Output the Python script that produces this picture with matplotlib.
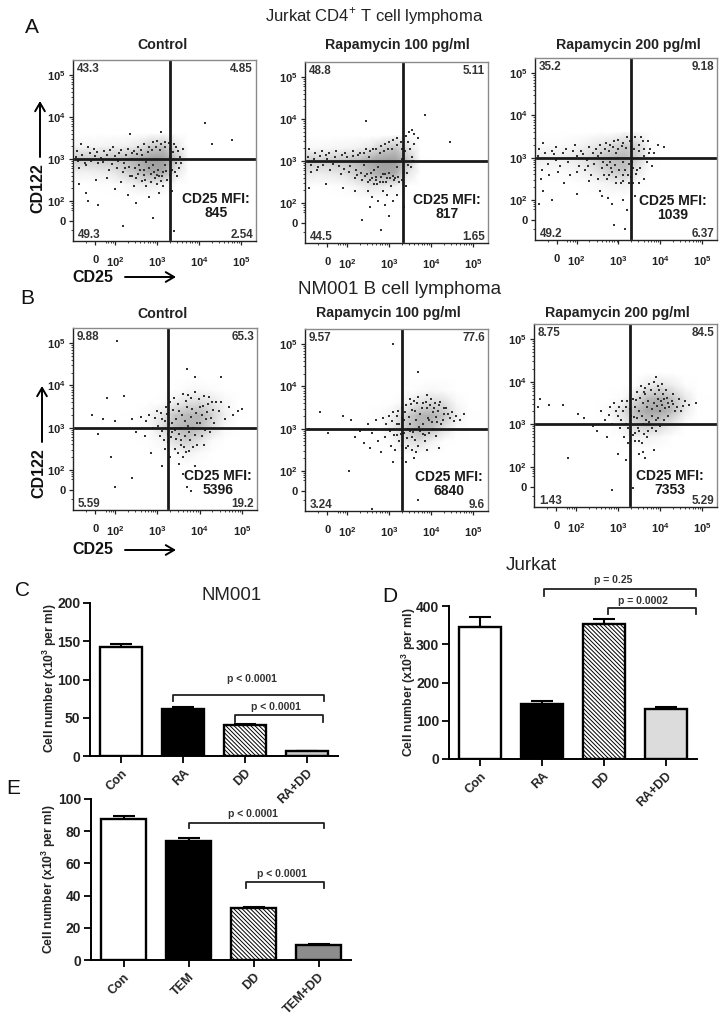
import numpy as np
import matplotlib
matplotlib.use("Agg")
import matplotlib.pyplot as plt

plt.rcParams['font.family'] = ['Liberation Sans', 'DejaVu Sans']
plt.rcParams['mathtext.fontset'] = 'custom'
plt.rcParams['mathtext.rm'] = 'Liberation Sans'
plt.rcParams['mathtext.bf'] = 'Liberation Sans:bold'
plt.rcParams['hatch.linewidth'] = 0.7

W, H = 728, 1018

# flow panels, axes are in decades (3 = 10^3), 0 sits at 1.53
panel_names = ["A1", "A2", "A3", "B1", "B2", "B3"]
panel_titles = ["Control", "Rapamycin 100 pg/ml", "Rapamycin 200 pg/ml",
                "Control", "Rapamycin 100 pg/ml", "Rapamycin 200 pg/ml"]
quad_ul = ["43.3", "48.8", "35.2", "9.88", "9.57", "8.75"]
quad_ur = ["4.85", "5.11", "9.18", "65.3", "77.6", "84.5"]
quad_ll = ["49.3", "44.5", "49.2", "5.59", "3.24", "1.43"]
quad_lr = ["2.54", "1.65", "6.37", "19.2", "9.6", "5.29"]
mfi = ["845", "817", "1039", "5396", "6840", "7353"]
gate_x = [3.31, 3.33, 3.31, 3.26, 3.31, 3.29]
gate_y = [3.0, 3.0, 3.0, 3.0, 3.0, 3.0]

# density read by eye, rows run from high CD122 to low
t_cols = [1.05, 1.35, 1.65, 1.95, 2.25, 2.55, 2.85, 3.15, 3.45, 3.75, 4.05]
t_rows = [3.6, 3.3, 3.0, 2.7, 2.4, 2.1]
b_cols = [2.2, 2.5, 2.8, 3.1, 3.4, 3.7, 4.0, 4.3, 4.6, 4.9, 5.2]
b_rows = [4.2, 3.9, 3.6, 3.3, 3.0, 2.7, 2.4, 2.1]

dens_a1 = [[0, 0, 0, 0, 0, 0, .02, .05, .02, 0, 0],
           [.12, .12, .12, .15, .15, .25, .5, .6, .25, 0, 0],
           [.55, .55, .55, .6, .65, .85, 1, 1, .6, .02, 0],
           [.15, .15, .2, .25, .45, .65, .9, .9, .25, 0, 0],
           [0, .01, .02, .03, .08, .2, .2, .12, 0, 0, 0],
           [0, 0, 0, 0, 0, 0, 0, 0, 0, 0, 0]]
dens_a2 = [[0, 0, 0, 0, 0, 0, .02, .08, .04, 0, 0],
           [.08, .08, .1, .12, .15, .25, .5, .6, .3, 0, 0],
           [.55, .5, .55, .6, .7, .9, 1, 1, .6, .02, 0],
           [.22, .18, .22, .3, .5, .7, .9, .85, .25, 0, 0],
           [0, .01, .02, .04, .12, .25, .2, .12, 0, 0, 0],
           [0, 0, 0, 0, 0, .02, 0, 0, 0, 0, 0]]
dens_a3 = [[0, 0, 0, 0, 0, 0, .01, .08, .06, 0, 0],
           [.06, .06, .06, .08, .15, .25, .35, .5, .4, .04, 0],
           [.2, .18, .18, .22, .35, .55, .7, .75, .5, .05, 0],
           [.06, .06, .06, .1, .18, .35, .55, .6, .22, 0, 0],
           [0, 0, 0, 0, .03, .1, .15, .18, .04, 0, 0],
           [0, 0, 0, 0, 0, 0, .02, .02, 0, 0, 0]]
dens_b1 = [[0, 0, 0, 0, 0, 0, 0, 0, 0, 0, 0],
           [0, 0, 0, 0, 0, .05, .08, .04, 0, 0, 0],
           [0, 0, 0, .03, .15, .3, .35, .25, .08, 0, 0],
           [0, .02, .08, .25, .55, .7, .75, .45, .15, .02, 0],
           [0, .01, .06, .3, .65, .8, .7, .35, .06, 0, 0],
           [0, 0, .02, .1, .35, .5, .3, .06, 0, 0, 0],
           [0, 0, 0, .02, .06, .15, .06, 0, 0, 0, 0],
           [0, 0, 0, 0, 0, .02, 0, 0, 0, 0, 0]]
dens_b2 = [[0, 0, 0, 0, 0, 0, 0, 0, 0, 0, 0],
           [0, 0, 0, 0, 0, .04, .08, .05, 0, 0, 0],
           [0, 0, 0, .02, .1, .3, .4, .35, .08, 0, 0],
           [0, .01, .05, .16, .45, .75, .8, .6, .2, .02, 0],
           [0, 0, .02, .2, .5, .75, .65, .3, .05, 0, 0],
           [0, 0, 0, .06, .25, .35, .15, .02, 0, 0, 0],
           [0, 0, 0, 0, .04, .04, 0, 0, 0, 0, 0],
           [0, 0, 0, 0, 0, 0, 0, 0, 0, 0, 0]]
dens_b3 = [[0, 0, 0, 0, 0, 0, .02, 0, 0, 0, 0],
           [0, 0, 0, 0, .02, .2, .3, .2, .04, 0, 0],
           [0, 0, 0, .04, .3, .7, .8, .6, .25, .02, 0],
           [0, .01, .08, .3, .65, .9, .9, .65, .2, 0, 0],
           [0, 0, .02, .15, .4, .55, .45, .2, .02, 0, 0],
           [0, 0, 0, .02, .15, .15, .08, 0, 0, 0, 0],
           [0, 0, 0, 0, 0, .02, 0, 0, 0, 0, 0],
           [0, 0, 0, 0, 0, 0, 0, 0, 0, 0, 0]]

# single events as (CD25, CD122)
dots_a1 = [(1.1,3.2),(1.2,3.35),(1.3,2.85),(1.4,3.15),(1.15,2.8),(1.5,3.25),(1.6,2.9),(1.75,3.2),(1.85,2.75),
           (1.95,3.3),(2.05,2.8),(2.1,3.15),(2.2,2.7),(2.3,3.25),(2.35,2.6),(2.45,3.2),(2.5,2.55),(2.55,3.3),
           (2.6,2.75),(2.7,3.35),(2.72,2.5),(2.8,3.3),(2.85,2.65),(2.9,3.4),(2.95,2.55),(3.0,3.42),(3.05,2.6),
           (3.1,3.35),(3.15,2.7),(3.2,3.4),(3.25,2.5),(3.3,3.25),(3.35,2.75),(3.4,3.35),(3.45,2.9),(3.5,3.2),
           (3.55,3.05),(3.62,3.25),(3.58,2.9),(3.48,2.6),(2.4,3.0),(2.65,3.1),(2.9,2.85),(3.2,2.85),(3.3,3.05),
           (1.3,2.2),(1.6,1.9),(1.15,2.4),(2.0,2.3),(2.3,2.15),(2.5,1.95),(2.8,2.1),(2.9,1.6),(3.05,2.2),
           (2.2,1.4),(1.35,2.0),(3.4,1.3),(4.15,3.85),(4.8,3.45),(3.1,3.65),(2.35,3.6),(4.3,3.35),(1.8,2.55),
           (2.15,2.45),(2.45,2.35),(2.75,2.35),(3.35,2.25),(3.15,2.35),(3.0,2.4),(1.55,2.5),
           (1.08,3.05),(1.12,2.95),(1.22,3.1),(1.28,2.9),(1.36,3.3),(1.44,2.95),(1.52,3.08),(1.58,3.18),(1.66,3.02),
           (1.72,2.92),(1.8,3.1),(1.88,3.22),(1.92,2.88),(2.0,3.08),(2.08,2.95),(2.14,3.22),(2.22,2.9),(2.26,3.1),
           (2.34,2.82),(2.4,3.14),(2.48,2.78),(2.52,3.12),(2.58,2.85),(2.62,3.22),(2.68,2.62),(2.74,2.92),(2.78,3.18),
           (2.82,2.78),(2.88,3.22),(2.92,2.7),(2.98,3.28),(3.02,2.75),(3.08,3.22),(3.12,2.6),(3.18,3.3),(3.22,2.72),
           (3.28,3.38),(3.32,2.62),(3.38,3.18),(3.42,2.7),(3.46,3.3),(3.52,2.8),(2.55,2.65),(2.7,2.75),(2.85,2.45),
           (3.0,2.62),(3.1,2.48),(2.65,2.48),(2.4,2.6),(2.25,2.78)]
dots_a2 = [(1.1,3.3),(1.25,3.2),(1.3,2.85),(1.4,3.25),(1.15,2.75),(1.5,3.15),(1.6,2.8),(1.75,3.25),(1.85,2.7),
           (1.95,3.2),(2.05,2.75),(2.15,3.25),(2.2,2.6),(2.3,3.2),(2.35,2.55),(2.45,3.3),(2.5,2.5),(2.55,3.25),
           (2.6,2.6),(2.7,3.3),(2.72,2.45),(2.8,3.35),(2.85,2.5),(2.9,3.4),(2.95,2.6),(3.0,3.45),(3.05,2.4),
           (3.1,3.5),(3.15,2.6),(3.2,3.55),(3.25,2.5),(3.3,3.3),(3.35,2.75),(3.4,3.6),(3.45,2.9),(3.5,3.3),
           (3.55,3.1),(3.6,3.4),(3.58,3.0),(3.48,3.7),(2.4,2.9),(2.65,2.8),(2.9,2.7),(3.2,2.85),(3.3,3.05),
           (2.6,2.15),(2.75,2.05),(2.85,2.3),(2.55,1.9),(2.35,1.6),(2.8,1.35),(3.0,1.7),(2.45,3.95),(3.85,4.1),
           (4.45,3.45),(3.2,2.2),(3.35,1.9),(1.5,2.45),(1.1,2.35),(1.9,2.35),(2.2,2.3),(2.9,1.95),(3.1,2.05),
           (2.5,2.3),(2.65,2.45),(2.95,2.2),(3.4,2.4),(3.6,3.65),(3.7,3.55),(3.55,3.75),
           (1.08,3.1),(1.14,2.9),(1.22,3.05),(1.28,2.8),(1.36,3.12),(1.44,2.9),(1.52,3.05),(1.58,3.2),(1.66,2.92),
           (1.72,3.1),(1.8,2.88),(1.88,3.15),(1.92,2.82),(2.0,3.1),(2.08,2.88),(2.14,3.12),(2.22,2.78),(2.26,3.15),
           (2.34,2.72),(2.4,3.2),(2.48,2.7),(2.52,3.1),(2.58,2.72),(2.62,3.28),(2.68,2.55),(2.74,2.85),(2.78,3.2),
           (2.82,2.62),(2.88,3.25),(2.92,2.5),(2.98,3.3),(3.02,2.6),(3.08,3.3),(3.12,2.55),(3.18,3.38),(3.22,2.62),
           (3.28,3.45),(3.32,2.55),(3.38,3.25),(3.42,2.72),(3.46,3.45),(3.52,2.85),(2.55,2.55),(2.7,2.62),(2.85,2.7),
           (3.0,2.72),(3.1,2.65),(2.78,2.5),(2.42,2.65),(2.25,2.68)]
dots_a3 = [(1.1,3.2),(1.2,3.35),(1.3,2.85),(1.4,3.15),(1.15,2.5),(1.5,3.25),(1.6,2.8),(1.75,3.2),(1.85,2.6),
           (1.95,3.3),(2.05,2.8),(2.1,3.15),(2.2,2.7),(2.3,3.25),(2.35,2.6),(2.45,3.2),(2.5,2.5),(2.55,3.3),
           (2.6,2.75),(2.7,3.35),(2.72,2.5),(2.8,3.3),(2.85,2.65),(2.9,3.4),(2.95,2.55),(3.0,3.42),(3.05,2.4),
           (3.1,3.35),(3.15,2.7),(3.2,3.5),(3.25,2.4),(3.3,3.25),(3.35,2.75),(3.4,3.5),(3.45,2.7),(3.5,3.3),
           (3.6,3.05),(3.7,3.4),(3.75,3.2),(3.85,3.1),(3.95,3.3),(4.1,3.25),(3.8,2.8),(3.6,2.5),(3.5,2.4),
           (2.6,2.1),(2.75,2.05),(2.85,1.9),(2.55,2.2),(3.1,2.0),(3.2,1.75),(2.9,1.4),(3.15,1.3),(1.2,2.2),
           (1.4,2.0),(1.7,2.4),(2.0,2.15),(2.3,2.45),(1.1,1.9),(3.4,2.1),(3.55,1.95),(2.65,2.6),(2.95,3.1),
           (3.1,2.9),(3.25,2.85),(2.8,2.9),(2.5,3.05),(2.25,2.95),(2.0,3.05),(1.5,2.95),
           (1.08,3.05),(1.16,2.7),(1.25,3.12),(1.33,2.6),(1.46,3.08),(1.55,2.65),(1.68,3.1),(1.8,2.9),(1.9,3.15),
           (2.0,2.65),(2.15,3.08),(2.28,2.8),(2.38,3.12),(2.42,2.85),(2.58,3.12),(2.62,2.9),(2.68,3.2),(2.72,2.82),
           (2.78,3.15),(2.82,2.75),(2.88,3.25),(2.92,2.82),(2.98,3.2),(3.02,2.7),(3.08,3.28),(3.12,2.6),(3.18,3.22),
           (3.22,2.58),(3.28,3.4),(3.32,2.9),(3.38,3.2),(3.42,2.62),(3.48,3.15),(3.52,2.75),(3.58,3.4),(3.62,3.2),
           (3.68,2.9),(3.72,3.1),(3.3,2.55),(3.1,2.45),(2.95,2.4),(2.78,2.6),(3.35,2.4),(3.55,3.48)]
dots_b1 = [(2.8,3.3),(2.9,3.0),(3.0,3.4),(3.05,2.8),(3.1,3.2),(3.15,2.7),(3.2,3.5),(3.25,2.85),(3.3,3.6),(3.35,3.1),
           (3.4,3.7),(3.42,2.5),(3.5,3.4),(3.55,2.6),(3.6,3.8),(3.65,2.8),(3.7,3.5),(3.75,2.45),(3.8,3.7),(3.85,3.0),
           (3.9,3.85),(3.95,2.6),(4.0,3.5),(4.05,2.8),(4.1,3.75),(4.15,3.2),(4.2,3.55),(4.25,2.9),(4.3,3.6),(4.35,3.1),
           (4.45,3.4),(4.5,3.6),(4.6,3.2),(4.7,3.5),(4.8,3.3),(4.9,3.4),(5.0,3.45),(3.9,4.2),(3.7,4.4),(4.5,4.2),
           (2.05,5.05),(1.8,3.7),(2.2,3.75),(1.45,3.3),(1.7,3.2),(2.0,3.15),(2.4,3.2),(2.6,3.25),(2.5,2.9),(2.7,2.8),
           (1.6,2.85),(1.9,2.3),(2.4,1.8),(2.0,1.6),(3.6,1.9),(3.7,1.6),(3.5,2.15),(3.9,2.1),(3.8,1.5),(3.3,2.3),
           (3.1,2.1),(2.85,2.4),(3.45,3.2),(3.55,3.0),(3.65,3.15),(3.8,3.25),(3.95,3.1),(4.05,3.3),(3.35,2.9),(3.75,2.9),
           (2.72,3.15),(2.95,3.22),(3.02,3.05),(3.08,3.35),(3.12,2.92),(3.18,3.15),(3.22,3.32),(3.28,3.08),(3.32,2.78),(3.38,3.42),
           (3.42,2.95),(3.48,3.55),(3.52,2.85),(3.58,3.3),(3.62,2.55),(3.68,3.62),(3.72,3.05),(3.78,2.7),(3.82,3.45),(3.88,2.82),
           (3.92,3.35),(3.98,3.68),(4.02,3.12),(4.08,3.52),(4.12,2.95),(4.18,3.38),(4.22,3.72),(4.28,3.22),(4.32,3.42),(4.38,3.6),
           (3.48,2.4),(3.6,2.3),(3.68,2.42),(3.55,2.7),(3.45,2.72),(3.85,2.55),(4.1,2.6),(3.25,2.65),(3.18,2.5),(3.72,3.78)]
dots_b2 = [(2.5,3.1),(2.6,2.9),(2.7,3.2),(2.75,2.7),(2.85,3.25),(2.9,2.8),(3.0,3.3),(3.05,2.6),(3.1,3.4),(3.15,2.5),
           (3.2,3.3),(3.25,2.7),(3.3,3.5),(3.35,2.9),(3.4,3.55),(3.45,2.6),(3.5,3.7),(3.55,2.8),(3.6,3.65),(3.65,2.45),
           (3.7,3.75),(3.75,2.95),(3.8,3.6),(3.85,2.7),(3.9,3.8),(3.95,3.2),(4.0,3.7),(4.05,3.0),(4.1,3.6),(4.15,3.15),
           (4.2,3.55),(4.3,3.35),(4.35,3.5),(4.45,3.25),(4.5,3.4),(4.6,3.3),(4.7,3.2),(4.8,3.35),(3.7,4.35),(1.1,3.0),
           (1.35,3.4),(1.9,3.3),(2.1,3.2),(2.3,2.95),(2.2,2.8),(2.4,2.65),(2.55,2.55),(1.55,2.9),(2.05,2.0),(3.1,5.0),
           (3.3,2.3),(3.4,2.2),(3.6,2.3),(3.1,2.2),(2.8,2.45),(3.9,2.5),(3.7,1.3),(4.2,2.55),(2.6,1.1),(3.5,3.1),
           (3.65,3.2),(3.8,3.1),(3.95,2.9),(3.35,3.2),(4.05,3.4),(3.55,3.45),(3.75,3.35),(3.9,3.5),(4.25,3.1),(3.25,3.1),
           (2.92,3.12),(3.02,2.95),(3.08,3.18),(3.12,2.85),(3.18,3.12),(3.22,3.42),(3.28,2.88),(3.32,3.25),(3.38,3.4),(3.42,2.78),
           (3.48,3.28),(3.52,3.58),(3.58,2.92),(3.62,3.42),(3.68,3.6),(3.72,3.05),(3.78,3.48),(3.82,2.88),(3.88,3.62),(3.92,3.25),
           (3.98,3.55),(4.02,3.15),(4.08,3.5),(4.12,3.28),(4.18,3.42),(4.22,3.62),(4.28,3.2),(4.32,3.48),(4.4,3.35),(4.55,3.18),
           (3.4,2.55),(3.55,2.5),(3.7,2.6),(3.3,2.6),(3.5,2.95),(3.62,2.72),(3.2,2.85),(3.85,2.85),(4.12,2.82),(3.45,3.0)]
dots_b3 = [(2.6,3.3),(2.7,3.1),(2.8,3.4),(2.85,3.0),(2.9,3.5),(3.0,3.2),(3.05,2.9),(3.1,3.55),(3.15,2.7),(3.2,3.4),
           (3.25,2.55),(3.3,3.2),(3.35,3.6),(3.4,2.8),(3.45,3.75),(3.5,2.6),(3.55,3.9),(3.6,3.0),(3.65,3.85),(3.7,2.7),
           (3.75,3.95),(3.8,3.2),(3.85,4.0),(3.9,2.85),(3.95,3.9),(4.0,3.3),(4.05,3.95),(4.1,3.1),(4.15,3.8),(4.2,3.2),
           (4.3,3.7),(4.35,3.3),(4.45,3.6),(4.5,3.3),(4.6,3.55),(4.7,3.45),(4.85,3.5),(3.9,4.1),(1.1,3.4),(1.15,3.6),
           (1.35,3.45),(1.7,3.45),(2.05,3.25),(2.2,3.15),(2.4,2.95),(2.5,2.85),(2.75,2.7),(1.8,2.2),(3.0,2.3),(3.2,2.15),
           (3.5,2.3),(3.6,2.35),(3.85,2.4),(3.65,2.2),(2.85,1.45),(3.35,1.5),(3.5,3.3),(3.7,3.4),(3.85,3.5),(3.95,3.6),
           (3.6,3.5),(3.45,3.15),(3.75,3.05),(4.05,3.45),(4.2,3.5),(3.3,3.0),(4.1,3.6),(3.95,3.15),(3.65,3.7),(3.4,3.4),
           (2.78,3.22),(2.95,3.3),(3.02,3.4),(3.08,3.1),(3.12,3.3),(3.18,3.0),(3.22,3.55),(3.28,3.35),(3.38,3.18),(3.42,3.58),
           (3.48,2.9),(3.52,3.62),(3.58,3.2),(3.62,3.75),(3.68,3.1),(3.72,3.55),(3.78,3.8),(3.82,3.35),(3.88,3.72),(3.92,3.42),
           (3.98,3.8),(4.02,3.55),(4.08,3.72),(4.12,3.38),(4.18,3.62),(4.22,3.4),(4.28,3.55),(4.32,3.48),(4.4,3.4),(4.55,3.42),
           (3.35,2.75),(3.5,2.85),(3.62,2.78),(3.8,2.9),(4.0,2.95),(3.25,2.9),(3.4,2.6),(3.58,2.55),(3.72,2.85),(3.9,3.1)]

dens_all = [dens_a1, dens_a2, dens_a3, dens_b1, dens_b2, dens_b3]
dots_all = [dots_a1, dots_a2, dots_a3, dots_b1, dots_b2, dots_b3]
flow_ticks = [1.53, 2, 3, 4, 5]
flow_ticklabels_x = ["0", "$\\mathbf{10^{2}}$", "$\\mathbf{10^{3}}$", "$\\mathbf{10^{4}}$", "$\\mathbf{10^{5}}$"]

# bar data
bar_labels_c = ["Con", "RA", "DD", "RA+DD"]
bar_vals_c = [143, 62, 41, 6]
bar_errs_c = [3, 1.5, 0.6, 0.5]
bar_labels_d = ["Con", "RA", "DD", "RA+DD"]
bar_vals_d = [345, 145, 352, 131]
bar_errs_d = [25, 7, 15, 5]
bar_labels_e = ["Con", "TEM", "DD", "TEM+DD"]
bar_vals_e = [87.5, 74, 32, 9.5]
bar_errs_e = [2, 2, 0.7, 0.3]

fig = plt.figure(figsize=(W / 100, H / 100), dpi=100)


def box(x0, x1, y0, y1):
    return [x0 / W, 1 - y1 / H, (x1 - x0) / W, (y1 - y0) / H]


# overlay in pixel coordinates for the labels and arrows
over = fig.add_axes([0, 0, 1, 1], zorder=10)
over.set_xlim(0, W)
over.set_ylim(H, 0)
over.axis("off")
over.patch.set_alpha(0)

frames = [(73, 256, 60, 241), (305, 488, 62, 243), (535, 717, 58, 240),
          (73, 257, 328, 510), (305, 488, 329, 511), (534, 717, 324, 507)]
title_pos = [(162, 45), (397, 45), (628, 45), (162, 314), (388, 313), (617, 313)]
mfi_pos = [(216, 206), (447, 207), (673, 208), (218, 483), (449, 484), (670, 483)]
minor = [np.log10(m) + d for d in (1, 2, 3, 4) for m in (2, 3, 4, 5, 6, 7, 8, 9)]
minor = [m for m in minor if 1.1 < m < 5.36 and not 1.35 < m < 1.7]

for i, name in enumerate(panel_names):
    x0, x1, y0, y1 = frames[i]
    ax = fig.add_axes(box(x0, x1, y0, y1))
    ax.set_xlim(1.0, 5.36)
    ax.set_ylim(1.05, 5.36)
    cols, rows = (t_cols, t_rows) if i < 3 else (b_cols, b_rows)
    ax.pcolormesh(cols, rows, np.array(dens_all[i]), shading="gouraud", cmap="gray_r",
                  vmin=0, vmax=2.6, zorder=1)
    d = np.array(dots_all[i])
    ax.scatter(d[:, 0], d[:, 1], s=0.7, c="#333333", marker="s", linewidths=0, zorder=2)
    ax.axvline(gate_x[i], color="#1a1a1a", lw=2.0, ymin=0.01, ymax=0.99, zorder=3)
    ax.axhline(gate_y[i], color="#1a1a1a", lw=2.0, xmin=0.01, xmax=0.99, zorder=3)
    for s in ax.spines.values():
        s.set_color("#8a8a8a")
        s.set_linewidth(1.0)
    ax.spines["left"].set_color("#222222")
    ax.spines["bottom"].set_color("#222222")
    ax.set_xticks(flow_ticks)
    ax.set_yticks(flow_ticks)
    ax.set_xticklabels(flow_ticklabels_x, fontsize=8, fontweight="bold")
    ax.set_yticklabels(flow_ticklabels_x, fontsize=8, fontweight="bold")
    ax.set_xticks(minor, minor=True)
    ax.set_yticks(minor, minor=True)
    ax.tick_params(axis="both", which="major", length=3, width=0.9, color="#222222", labelcolor="#222222")
    ax.tick_params(axis="both", which="minor", length=1.5, width=0.6, color="#222222")
    ax.tick_params(axis="x", which="major", pad=7)
    ax.tick_params(axis="y", which="major", pad=2)

    over.text(title_pos[i][0], title_pos[i][1], panel_titles[i], ha="center", va="center",
              fontsize=10.2, fontweight="bold", color="#222222")
    over.text(x0 + 4, y0 + 9, quad_ul[i], ha="left", va="center", fontsize=8.4, fontweight="bold", color="#333333")
    over.text(x1 - 3, y0 + 9, quad_ur[i], ha="right", va="center", fontsize=8.4, fontweight="bold", color="#333333")
    over.text(x0 + 5, y1 - 6, quad_ll[i], ha="left", va="center", fontsize=8.4, fontweight="bold", color="#333333")
    over.text(x1 - 3, y1 - 6, quad_lr[i], ha="right", va="center", fontsize=8.4, fontweight="bold", color="#333333")
    over.text(mfi_pos[i][0], mfi_pos[i][1], "CD25 MFI:\n" + mfi[i], ha="center", va="center",
              fontsize=10, fontweight="bold", color="#1a1a1a", linespacing=0.95)

arrow = dict(arrowstyle="->,head_width=0.35,head_length=0.6", lw=1.4, color="black", shrinkA=0, shrinkB=0)
for x, ya, yb, ytxt, xtxt in [(40, 157, 101, 188, 38), (42, 442, 386, 473, 39)]:
    over.annotate("", xy=(x, yb), xytext=(x, ya), arrowprops=arrow)
    over.text(xtxt, ytxt, "CD122", rotation=90, ha="center", va="center", fontsize=11.5, fontweight="bold", color="#111111")
for y in (277, 550):
    over.annotate("", xy=(176, y), xytext=(125, y), arrowprops=arrow)
    over.text(93, y, "CD25", ha="center", va="center", fontsize=11.5, fontweight="bold", color="#111111")

over.text(374, 16, "Jurkat CD4$^{+}$ T cell lymphoma", ha="center", va="center", fontsize=12, color="#222222")
over.text(400, 290, "NM001 B cell lymphoma", ha="center", va="center", fontsize=13.5, color="#222222")
over.text(232, 596, "NM001", ha="center", va="center", fontsize=13.4, color="#222222")
over.text(531, 566, "Jurkat", ha="center", va="center", fontsize=13.6, color="#222222")
for letter, px, py in [("A", 32, 27), ("B", 27, 298), ("C", 23, 591), ("D", 390, 597), ("E", 13, 788)]:
    over.text(px, py, letter, ha="center", va="center", fontsize=15, color="#111111")


def bars(bx, labels, vals, errs, ymax, step, last_color):
    ax = fig.add_axes(box(*bx))
    ax.set_xlim(-0.5, 3.5)
    ax.set_ylim(0, ymax)
    ax.patch.set_alpha(0)
    xpos = np.arange(4)
    faces = ["white", "black", "white", last_color]
    rects = ax.bar(xpos, vals, width=0.68, color=faces, edgecolor="black", linewidth=1.7, zorder=2)
    rects[2].set_hatch("\\\\\\\\\\\\\\\\")
    ax.errorbar(xpos, vals, yerr=[[0] * 4, errs], fmt="none", ecolor="black", elinewidth=1.5,
                capsize=8, capthick=1.5, zorder=1)
    for s in ("top", "right"):
        ax.spines[s].set_visible(False)
    ax.spines["left"].set_linewidth(1.4)
    ax.spines["bottom"].set_linewidth(1.4)
    ax.set_yticks(np.arange(0, ymax + 1, step))
    ax.set_xticks(xpos)
    ax.set_xticklabels(labels, rotation=45, ha="right", rotation_mode="anchor", fontsize=9,
                       fontweight="bold", color="#222222")
    ax.tick_params(axis="y", labelsize=10, length=5, width=1.3, pad=2, labelcolor="#222222")
    ax.tick_params(axis="x", length=5, width=1.3, pad=3)
    for t in ax.get_yticklabels():
        t.set_fontweight("bold")
    return ax


def bracket(ax, xa, xb, y, drop_a, drop_b):
    ax.plot([xa, xa, xb, xb], [drop_a, y, y, drop_b], color="#222222", lw=1.3, clip_on=False, zorder=3)


ax_c = bars((90, 338, 603, 756), bar_labels_c, bar_vals_c, bar_errs_c, 200, 50, "#c8c8c8")
bracket(ax_c, 0.84, 3.27, 80, 72, 72)
bracket(ax_c, 1.84, 3.26, 53.6, 44, 44)
ax_d = bars((449, 697, 606, 759), bar_labels_d, bar_vals_d, bar_errs_d, 400, 100, "#dcdcdc")
bracket(ax_d, 1.04, 3.49, 444, 426, 426)
bracket(ax_d, 2.07, 3.49, 395, 379, 379)
ax_e = bars((91, 351, 799, 960), bar_labels_e, bar_vals_e, bar_errs_e, 100, 20, "#8c8c8c")
bracket(ax_e, 1.0, 3.08, 85, 82, 82)
bracket(ax_e, 1.88, 3.08, 48.4, 44.7, 44.7)

for txt, px, py in [("p < 0.0001", 252, 679), ("p < 0.0001", 276, 707), ("p = 0.25", 613, 580),
                    ("p = 0.0002", 643, 601), ("p < 0.0001", 253, 814), ("p < 0.0001", 282, 874)]:
    over.text(px, py, txt, ha="center", va="center", fontsize=7.5, fontweight="bold", color="#333333")

ylab = "Cell number (x10$\\mathbf{^{3}}$ per ml)"
over.text(50, 678, ylab, rotation=90, ha="center", va="center", fontsize=8.8, fontweight="bold", color="#222222")
over.text(409, 682, ylab, rotation=90, ha="center", va="center", fontsize=8.8, fontweight="bold", color="#222222")
over.text(49, 879, ylab, rotation=90, ha="center", va="center", fontsize=8.8, fontweight="bold", color="#222222")

fig.savefig("out.png", dpi=100)
